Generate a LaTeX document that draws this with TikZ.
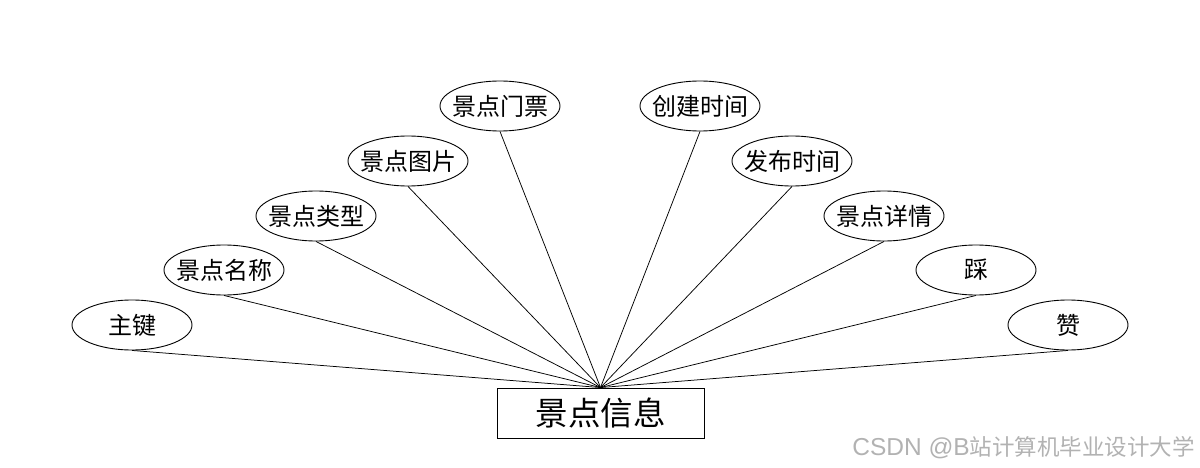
\documentclass[tikz,border=0pt]{standalone}
\usepackage{fontspec}
\setmainfont{Liberation Sans}
\newfontfamily\cjk{Noto Sans CJK SC}
\usetikzlibrary{shapes.geometric}
\begin{document}
\begin{tikzpicture}[x=1pt,y=-1pt,
  attr/.style={draw,line width=0.9pt,ellipse,minimum width=120pt,minimum height=50pt,inner xsep=-10pt,inner ysep=0pt,font=\cjk\fontsize{24}{28}\selectfont},
  ent/.style={draw,line width=0.9pt,rectangle,minimum width=207pt,minimum height=50pt,inner sep=0pt,font=\cjk\fontsize{32.5}{36}\selectfont},
  conn/.style={draw,line width=0.75pt}]
\useasboundingbox (0,0) rectangle (1200,468);
\node[ent] (e) at (600.5,413) {景点信息};
\node[attr] (a1) at (132,325) {主键};
\node[attr] (a2) at (224,270) {景点名称};
\node[attr] (a3) at (316,216) {景点类型};
\node[attr] (a4) at (408,161) {景点图片};
\node[attr] (a5) at (500,106) {景点门票};
\node[attr] (a6) at (700,106) {创建时间};
\node[attr] (a7) at (792,161) {发布时间};
\node[attr] (a8) at (884,216) {景点详情};
\node[attr] (a9) at (976,270) {踩};
\node[attr] (a10) at (1068,325) {赞};
\foreach \i in {1,...,10} \draw[conn] (a\i.south) -- (e.north);
\node[anchor=east,text=black!30,font=\fontsize{24.5}{28}\selectfont,inner sep=0pt] (wm) at (1195,448) {CSDN @B{\cjk\fontsize{22.5}{26}\selectfont 站计算机毕业设计大学}};
\end{tikzpicture}
\end{document}
